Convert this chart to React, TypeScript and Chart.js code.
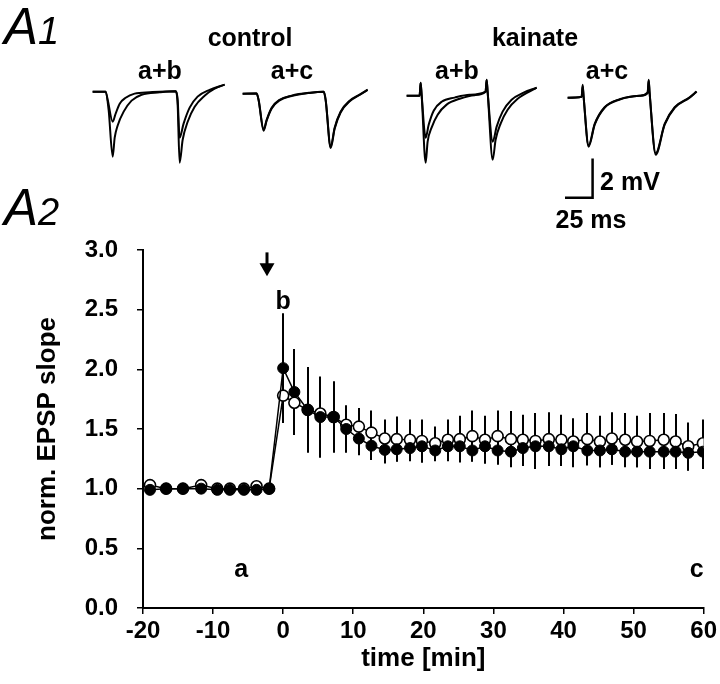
import React, { useEffect, useRef } from 'react';
import { Chart, registerables } from 'chart.js';

Chart.register(...registerables);

const FONT = "'Liberation Sans', Arial, Helvetica, sans-serif";

// ---------------- A2: time course data ----------------
const timeMin = [
  -19, -16.7, -14.3, -11.7, -9.4, -7.6, -5.6, -3.8, -2.0,
  0, 1.6, 3.5, 5.3, 7.2, 9.0, 10.8, 12.6, 14.5, 16.2, 18.1, 19.8, 21.7, 23.5, 25.2, 27.0,
  28.8, 30.6, 32.5, 34.2, 36.0, 37.9, 39.7, 41.4, 43.4, 45.2, 46.9, 48.8, 50.5, 52.3, 54.3,
  56.0, 57.8, 59.9,
];
const filledMean = [
  0.99, 1.0, 1.0, 1.0, 0.99, 0.99, 0.99, 0.99, 1.0,
  2.01, 1.81, 1.66, 1.6, 1.6, 1.5, 1.42, 1.36, 1.325, 1.33, 1.34, 1.355, 1.32, 1.355, 1.355, 1.32,
  1.355, 1.32, 1.31, 1.34, 1.355, 1.355, 1.33, 1.355, 1.32, 1.32, 1.33, 1.31, 1.31, 1.31, 1.31,
  1.31, 1.3, 1.31,
];
const filledErr = [
  0, 0, 0, 0, 0, 0, 0, 0, 0,
  0.46, 0.36, 0.36, 0.34, 0.3, 0.2, 0.14, 0.12, 0.115, 0.1, 0.11, 0.135, 0.09, 0.125, 0.115, 0.09,
  0.145, 0.12, 0.12, 0.15, 0.175, 0.165, 0.14, 0.175, 0.12, 0.14, 0.13, 0.13, 0.13, 0.145, 0.145,
  0.13, 0.15, 0.145,
];
const openMean = [
  1.03, 1.0, 1.0, 1.03, 1.0, 1.0, 1.0, 1.02, 1.0,
  1.78, 1.72, 1.66, 1.63, 1.6, 1.535, 1.52, 1.47, 1.42, 1.415, 1.41, 1.4, 1.38, 1.41, 1.415, 1.44,
  1.41, 1.44, 1.415, 1.41, 1.4, 1.415, 1.41, 1.395, 1.415, 1.395, 1.42, 1.41, 1.395, 1.4, 1.41,
  1.395, 1.355, 1.38,
];
const openErr = [
  0, 0, 0, 0, 0, 0, 0, 0, 0,
  0.22, 0.2, 0.3, 0.25, 0.2, 0.155, 0.155, 0.185, 0.16, 0.19, 0.17, 0.18, 0.14, 0.17, 0.195, 0.215,
  0.2, 0.215, 0.235, 0.21, 0.235, 0.225, 0.21, 0.195, 0.22, 0.215, 0.22, 0.225, 0.215, 0.235, 0.225,
  0.23, 0.2, 0.2,
];
const xTickLabels = [-20, -10, 0, 10, 20, 30, 40, 50, 60];
const yTickLabels = [0, 0.5, 1.0, 1.5, 2.0, 2.5, 3.0];

// annotations (data units: min, norm. slope)
const pointLabels = [
  { text: 'a', t: -6, v: 0.32 },
  { text: 'b', t: 0, v: 2.56 },
  { text: 'c', t: 59, v: 0.32 },
];
const arrowAt = { t: -2.3, from: 2.98, to: 2.78 };

// ---------------- A1: EPSP traces (ms, mV) ----------------
const ctrlAB_a_t = [0, 9.8, 11.4, 15.2, 17.4, 20.5, 25, 31.8, 43.2, 62.9, 64.4, 65.9, 68.9, 73.5, 79.5, 88.6, 100];
const ctrlAB_a_mv = [0, 0, -0.42, -1.58, -1.16, -0.63, -0.32, -0.1, -0.03, 0.03, -0.42, -2.42, -1.68, -0.84, -0.26, 0.1, 0.37];
const ctrlAB_b_t = [0, 9.8, 12.1, 15.2, 16.7, 18.9, 23.5, 29.5, 37.1, 50.8, 62.9, 64.4, 65.9, 68.2, 72, 77.3, 84.8, 92.4, 100];
const ctrlAB_b_mv = [0, 0, -0.95, -3.42, -2.42, -1.79, -1.05, -0.47, -0.16, -0.03, 0.03, -0.68, -3.74, -2.53, -1.58, -0.79, -0.21, 0.16, 0.37];

const ctrlAC_a_t = [0, 10.6, 12.1, 15.9, 18.2, 22, 28, 37.1, 50.8, 61.4, 62.9, 66.7, 69.7, 74.2, 81.1, 88.6, 94.7];
const ctrlAC_a_mv = [0, 0, -0.32, -1.89, -1.37, -0.74, -0.32, -0.1, 0.05, 0.1, -0.32, -2.79, -1.79, -0.95, -0.37, -0.05, 0.21];
const ctrlAC_c_t = [0, 10.6, 12.1, 15.9, 18.2, 22, 28, 37.1, 50.8, 61.4, 62.9, 66.7, 69.7, 74.2, 81.1, 88.6, 94.7];
const ctrlAC_c_mv = [0, 0.02, -0.35, -1.95, -1.42, -0.78, -0.35, -0.12, 0.04, 0.1, -0.35, -2.86, -1.85, -0.99, -0.4, -0.07, 0.2];

const kaiAB_a_t = [0, 9.8, 10.6, 11.4, 14.4, 16.7, 20.5, 26.5, 36.4, 47.7, 59.8, 60.6, 61.4, 65.2, 68.2, 72.7, 79.5, 88.6, 98.5];
const kaiAB_a_mv = [0, 0, 0.68, 0, -2.21, -1.53, -0.79, -0.32, -0.1, 0.05, 0.21, 0.84, 0.16, -2.42, -1.63, -0.84, -0.21, 0.16, 0.42];
const kaiAB_b_t = [0, 9.8, 10.6, 11.4, 14.4, 15.9, 18.9, 23.5, 30.3, 40.2, 51.5, 59.8, 60.6, 61.4, 65.2, 67.4, 71.2, 76.5, 84.1, 98.5];
const kaiAB_b_mv = [0, 0, 0.68, 0, -3.53, -2.42, -1.68, -1.0, -0.47, -0.16, 0.03, 0.21, 0.84, 0.16, -3.37, -2.32, -1.47, -0.74, -0.16, 0.42];

const kaiAC_a_t = [0, 10.6, 11.4, 12.1, 15.9, 20.5, 28, 39.4, 54.5, 60.6, 61.4, 62.1, 66.7, 73.5, 81.1, 92.4, 97.7];
const kaiAC_a_mv = [0, 0.05, 0.68, 0.05, -2.58, -1.42, -0.53, -0.1, 0.1, 0.26, 0.95, 0.26, -3.0, -1.42, -0.53, 0, 0.32];
const kaiAC_c_t = [0, 10.6, 11.4, 12.1, 15.9, 20.5, 28, 39.4, 54.5, 60.6, 61.4, 62.1, 66.7, 73.5, 81.1, 92.4, 97.7];
const kaiAC_c_mv = [0, 0.05, 0.6, 0.05, -2.5, -1.38, -0.5, -0.08, 0.1, 0.26, 0.9, 0.26, -2.92, -1.38, -0.5, 0.02, 0.32];

const scaleBarMs = 25;
const scaleBarMv = 2;

// ---------------- layout constants ----------------
const PX_PER_MS = 1.32;
const PX_PER_MV = 19;
const T_START = -2;
const V_TOP = 1.3;

const toXY = (t: number[], v: number[]) => t.map((tt, i) => ({ x: tt, y: v[i] }));

const errorBarPlugin = {
  id: 'errorBars',
  beforeDatasetsDraw(chart: any) {
    const { ctx, scales } = chart;
    const xs = scales.x, ys = scales.y;
    ctx.save();
    ctx.strokeStyle = '#000';
    ctx.lineWidth = 2;
    chart.data.datasets.forEach((ds: any) => {
      if (!ds.errors) return;
      ds.data.forEach((p: any, i: number) => {
        const e = ds.errors[i];
        if (!e) return;
        const px = Math.round(xs.getPixelForValue(p.x));
        ctx.beginPath();
        ctx.moveTo(px, ys.getPixelForValue(p.y - e));
        ctx.lineTo(px, ys.getPixelForValue(p.y + e));
        ctx.stroke();
      });
    });
    ctx.restore();
  },
};

const annotationPlugin = {
  id: 'annots',
  afterDatasetsDraw(chart: any) {
    const { ctx, scales } = chart;
    const xs = scales.x, ys = scales.y;
    ctx.save();
    ctx.fillStyle = '#000';
    ctx.font = `bold 25px ${FONT}`;
    ctx.textAlign = 'center';
    ctx.textBaseline = 'middle';
    pointLabels.forEach((l) => {
      ctx.fillText(l.text, xs.getPixelForValue(l.t), ys.getPixelForValue(l.v));
    });
    // arrow
    const ax = Math.round(xs.getPixelForValue(arrowAt.t));
    const y0 = ys.getPixelForValue(arrowAt.from);
    const y1 = ys.getPixelForValue(arrowAt.to);
    ctx.strokeStyle = '#000';
    ctx.lineWidth = 3;
    ctx.beginPath();
    ctx.moveTo(ax, y0);
    ctx.lineTo(ax, y1 - 10);
    ctx.stroke();
    ctx.beginPath();
    ctx.moveTo(ax - 7.5, y1 - 13);
    ctx.lineTo(ax + 7.5, y1 - 13);
    ctx.lineTo(ax, y1);
    ctx.closePath();
    ctx.fill();
    ctx.restore();
  },
};

function MainChart() {
  const ref = useRef<HTMLCanvasElement | null>(null);
  useEffect(() => {
    if (!ref.current) return;
    const tickFont = { family: FONT, size: 24, weight: 'bold' as const };
    const titleFont = { family: FONT, size: 26, weight: 'bold' as const };
    const chart = new Chart(ref.current, {
      type: 'line',
      data: {
        datasets: [
          {
            label: 'filled',
            data: toXY(timeMin, filledMean),
            errors: filledErr,
            borderColor: '#000',
            borderWidth: 1.5,
            backgroundColor: '#000',
            pointBackgroundColor: '#000',
            pointBorderColor: '#000',
            pointBorderWidth: 1,
            pointRadius: 5.5,
            tension: 0,
          } as any,
          {
            label: 'open',
            data: toXY(timeMin, openMean),
            errors: openErr,
            borderColor: '#000',
            borderWidth: 1.5,
            backgroundColor: '#fff',
            pointBackgroundColor: '#fff',
            pointBorderColor: '#000',
            pointBorderWidth: 1.6,
            pointRadius: 5.5,
            tension: 0,
          } as any,
        ],
      },
      options: {
        responsive: false,
        animation: false,
        events: [],
        layout: { padding: { left: 32, right: 12, top: 250, bottom: 0 } },
        plugins: { legend: { display: false }, tooltip: { enabled: false } },
        scales: {
          x: {
            type: 'linear',
            min: xTickLabels[0],
            max: xTickLabels[xTickLabels.length - 1],
            afterBuildTicks: (s: any) => { s.ticks = xTickLabels.map((v) => ({ value: v })); },
            afterFit: (s: any) => { s.height = 76; },
            grid: { drawOnChartArea: false, drawTicks: true, tickLength: 6, color: '#000', lineWidth: 1.5 },
            border: { display: true, color: '#000', width: 2 },
            ticks: { color: '#000', font: tickFont, padding: 3, maxRotation: 0, autoSkip: false, callback: (v: any) => String(v) },
            title: { display: true, text: 'time [min]', color: '#000', font: titleFont, padding: { top: 0, bottom: 10 } },
          },
          y: {
            type: 'linear',
            min: yTickLabels[0],
            max: yTickLabels[yTickLabels.length - 1],
            afterBuildTicks: (s: any) => { s.ticks = yTickLabels.map((v) => ({ value: v })); },
            afterFit: (s: any) => { s.width = 111; },
            grid: { drawOnChartArea: false, drawTicks: true, tickLength: 6, color: '#000', lineWidth: 1.5 },
            border: { display: true, color: '#000', width: 2 },
            ticks: { color: '#000', font: tickFont, padding: 19, callback: (v: any) => Number(v).toFixed(1) },
            title: { display: true, text: 'norm. EPSP slope', color: '#000', font: titleFont, padding: { top: 0, bottom: 0 } },
          },
        },
      } as any,
      plugins: [errorBarPlugin, annotationPlugin],
    });
    return () => chart.destroy();
  }, []);
  return (
    <canvas ref={ref} width={720} height={684}
      style={{ position: 'absolute', left: 0, top: 0, width: 720, height: 684 }} />
  );
}

type Sweep = { t: number[]; mv: number[] };

const scaleBarPlugin = {
  id: 'scaleBar',
  afterDatasetsDraw(chart: any, _args: any, opts: any) {
    if (!opts || !opts.show) return;
    const { ctx, scales } = chart;
    const xs = scales.x, ys = scales.y;
    const cx = xs.getPixelForValue(opts.t);
    const cy = ys.getPixelForValue(opts.v);
    const lx = xs.getPixelForValue(opts.t - scaleBarMs);
    const ty = ys.getPixelForValue(opts.v + scaleBarMv);
    ctx.save();
    ctx.strokeStyle = '#000';
    ctx.lineWidth = 2.5;
    ctx.lineCap = 'square';
    ctx.beginPath();
    ctx.moveTo(cx, ty);
    ctx.lineTo(cx, cy);
    ctx.lineTo(lx, cy);
    ctx.stroke();
    ctx.restore();
  },
};

function TracePanel(props: { x0: number; y0: number; w: number; h: number; sweeps: Sweep[]; bar?: { t: number; v: number } }) {
  const ref = useRef<HTMLCanvasElement | null>(null);
  const { x0, y0, w, h, sweeps, bar } = props;
  useEffect(() => {
    if (!ref.current) return;
    const chart = new Chart(ref.current, {
      type: 'line',
      data: {
        datasets: sweeps.map((s) => ({
          data: toXY(s.t, s.mv),
          borderColor: '#000',
          borderWidth: 2,
          pointRadius: 0,
          cubicInterpolationMode: 'monotone',
          fill: false,
        })) as any,
      },
      options: {
        responsive: false,
        animation: false,
        events: [],
        layout: { padding: 0 },
        plugins: { legend: { display: false }, tooltip: { enabled: false }, scaleBar: bar ? { show: true, ...bar } : { show: false } } as any,
        scales: {
          x: { type: 'linear', display: false, min: T_START, max: T_START + w / PX_PER_MS },
          y: { type: 'linear', display: false, min: V_TOP - h / PX_PER_MV, max: V_TOP },
        },
      } as any,
      plugins: [scaleBarPlugin],
    });
    return () => chart.destroy();
  }, []);
  const left = x0 + T_START * PX_PER_MS;
  const top = y0 - V_TOP * PX_PER_MV;
  return (
    <canvas ref={ref} width={w} height={h}
      style={{ position: 'absolute', left, top, width: w, height: h }} />
  );
}

const txt = (text: string, x: number, y: number, size = 25) => (
  <div style={{
    position: 'absolute', left: x, top: y, transform: 'translate(-50%, -50%)',
    font: `bold ${size}px ${FONT}`, lineHeight: 1, whiteSpace: 'nowrap', color: '#000',
  }}>{text}</div>
);

function PanelLabel({ n, top }: { n: string; top: number }) {
  return (
    <div style={{ position: 'absolute', left: 4, top, fontFamily: FONT, fontStyle: 'italic', lineHeight: '50px', color: '#000', whiteSpace: 'nowrap' }}>
      <span style={{ fontSize: 51 }}>A</span>
      <span style={{ fontSize: 38 }}>{n}</span>
    </div>
  );
}

export default function App() {
  return (
    <div style={{ position: 'fixed', left: 0, top: 0, width: 720, height: 684, background: '#fff', overflow: 'hidden' }}>
      <MainChart />
      <TracePanel x0={93} y0={92} w={140} h={110}
        sweeps={[{ t: ctrlAB_a_t, mv: ctrlAB_a_mv }, { t: ctrlAB_b_t, mv: ctrlAB_b_mv }]} />
      <TracePanel x0={243} y0={94} w={140} h={110}
        sweeps={[{ t: ctrlAC_a_t, mv: ctrlAC_a_mv }, { t: ctrlAC_c_t, mv: ctrlAC_c_mv }]} />
      <TracePanel x0={407} y0={96} w={140} h={110}
        sweeps={[{ t: kaiAB_a_t, mv: kaiAB_a_mv }, { t: kaiAB_b_t, mv: kaiAB_b_mv }]} />
      <TracePanel x0={568} y0={98} w={140} h={150}
        sweeps={[{ t: kaiAC_a_t, mv: kaiAC_a_mv }, { t: kaiAC_c_t, mv: kaiAC_c_mv }]}
        bar={{ t: 18.9, v: -5.26 }} />
      <PanelLabel n="1" top={2} />
      <PanelLabel n="2" top={183} />
      {txt('control', 250, 37)}
      {txt('kainate', 535, 37)}
      {txt('a+b', 160, 70)}
      {txt('a+c', 292, 70)}
      {txt('a+b', 457, 70)}
      {txt('a+c', 607, 70)}
      {txt('2 mV', 630, 181)}
      {txt('25 ms', 591, 219)}
    </div>
  );
}
